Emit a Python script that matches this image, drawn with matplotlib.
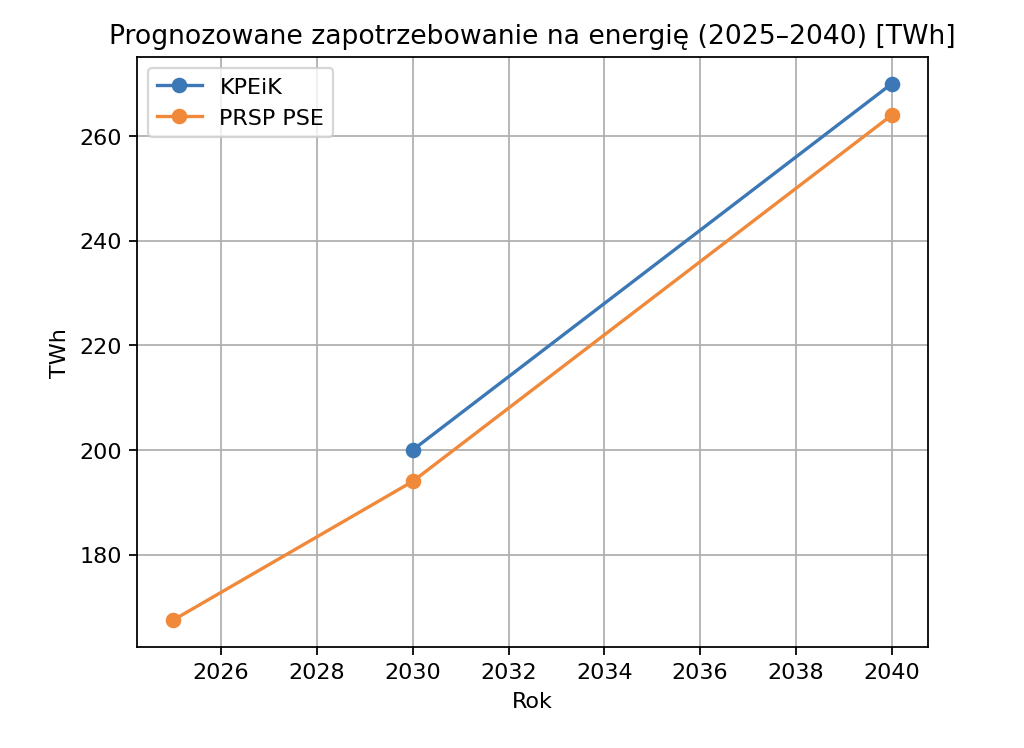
import numpy as np
import matplotlib
matplotlib.use("Agg")
import matplotlib.pyplot as plt

# data
years_kpeik = [2030, 2040]
twh_kpeik = [200, 270]
years_prsp = [2025, 2030, 2040]
twh_prsp = [167.5, 194, 264]

fig = plt.figure(figsize=(6.4, 4.68), dpi=160)
ax = fig.add_axes([0.134, 0.135, 0.772, 0.788])

ax.plot(years_kpeik, twh_kpeik, marker='o', color='#3b78b5', label='KPEiK')
ax.plot(years_prsp, twh_prsp, marker='o', color='#f0893a', label='PRSP PSE')

ax.set_title('Prognozowane zapotrzebowanie na energię (2025–2040) [TWh]')
ax.set_xlabel('Rok')
ax.set_ylabel('TWh')
ax.set_xticks(np.arange(2026, 2041, 2))
ax.grid(True)
ax.legend(loc='upper left')

fig.savefig('out.png', dpi=160)
